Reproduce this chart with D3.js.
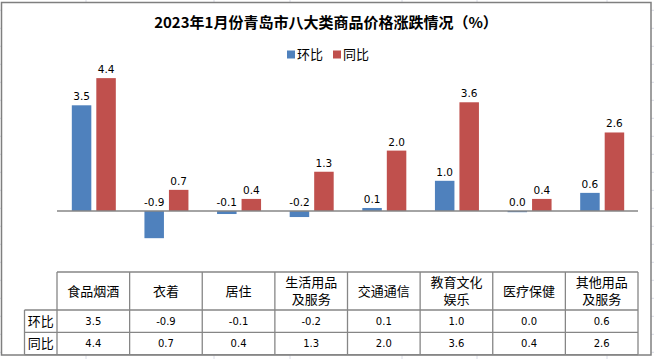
<!DOCTYPE html>
<html>
<head>
<meta charset="utf-8">
<script src="https://cdn.jsdelivr.net/npm/d3@7"></script>
<style>
  body { margin: 0; background: #fff; }
  svg { display: block; }
</style>
</head>
<body>
<div id="chart"></div>
<script>
// data
var categories = ["食品烟酒", "衣着", "居住", "生活用品\n及服务", "交通通信", "教育文化\n娱乐", "医疗保健", "其他用品\n及服务"];
var huanbi = [3.5, -0.9, -0.1, -0.2, 0.1, 1.0, 0.0, 0.6];
var tongbi = [4.4, 0.7, 0.4, 1.3, 2.0, 3.6, 0.4, 2.6];
var seriesNames = ["环比", "同比"];
var seriesColors = ["#4F81BD", "#C0504D"];
var titleText = "2023年1月份青岛市八大类商品价格涨跌情况（%）";

var width = 654, height = 359;
var cjk = "'Noto Sans CJK SC', sans-serif";
var num = "'DejaVu Sans', sans-serif";
var fmt = d3.formatLocale({decimal: ".", thousands: ",", grouping: [3], currency: ["", ""], minus: "-"}).format(".1f");

var svg = d3.select("#chart").append("svg")
    .attr("width", width)
    .attr("height", height);

//-sheet gridlines behind the chart object----------------------------------//
var sheetCols = [86, 214, 290, 402, 477, 607];
var sheetRows = d3.range(10.3, height, 18);
svg.append("g").selectAll("line.col").data(sheetCols).enter().append("line")
    .attr("x1", d=>d).attr("x2", d=>d).attr("y1", 0).attr("y2", height)
    .attr("stroke", "#dadce6").attr("stroke-width", 1);
svg.append("g").selectAll("line.row").data(sheetRows).enter().append("line")
    .attr("x1", 0).attr("x2", width).attr("y1", d=>d).attr("y2", d=>d)
    .attr("stroke", "#dadce6").attr("stroke-width", 1);

// chart frame
svg.append("rect")
    .attr("x", 1.5).attr("y", 2.5)
    .attr("width", 649.5).attr("height", 352.5)
    .attr("fill", "#fff")
    .attr("stroke", "#7f7f7f")
    .attr("stroke-width", 1.5);

//-scales--------------------------------------------------------------------//
var xScale = d3.scaleBand()
    .domain(categories)
    .range([57, 638])
    .padding(0);

var yScale = d3.scaleLinear()
    .domain([-2, 5])
    .range([271.4, 60]);

var barW = 19.5, gap = 5;

// title
svg.append("text")
    .attr("x", 326)
    .attr("y", 28)
    .attr("text-anchor", "middle")
    .attr("font-family", cjk)
    .attr("font-weight", "bold")
    .attr("font-size", 15)
    .attr("fill", "#000")
    .text(titleText);

// legend
var legend = svg.append("g").attr("class", "legend");
var legX = [287, 333];
seriesNames.forEach(function(name, i){
    legend.append("rect")
        .attr("x", legX[i]).attr("y", 50.5)
        .attr("width", 8).attr("height", 8)
        .attr("fill", seriesColors[i]);
    legend.append("text")
        .attr("x", legX[i] + 10)
        .attr("y", 59)
        .attr("font-family", cjk)
        .attr("font-size", 13)
        .attr("fill", "#000")
        .text(name);
});

//-bars----------------------------------------------------------------------//
var rows = categories.map(function(c, i){ return {cat: c, v: [huanbi[i], tongbi[i]]}; });
var svg_g = svg.append("g").attr("class", "mainchart");

seriesNames.forEach(function(name, s){
    var xOff = function(d){
        var mid = xScale(d.cat) + xScale.bandwidth() / 2 + 0.5;
        return s === 0 ? mid - gap / 2 - barW : mid + gap / 2;
    };
    svg_g.selectAll("rect.bar-" + s).data(rows).enter().append("rect")
        .attr("class", "bar-" + s)
        .attr("x", xOff)
        .attr("y", d=>yScale(Math.max(0, d.v[s])))
        .attr("width", barW)
        .attr("height", d=>Math.max(Math.abs(yScale(d.v[s]) - yScale(0)), 1.2))
        .attr("fill", seriesColors[s]);
    svg_g.selectAll("text.lab-" + s).data(rows).enter().append("text")
        .attr("class", "lab-" + s)
        .attr("x", d=>xOff(d) + barW / 2)
        .attr("y", d=>Math.min(yScale(0), yScale(d.v[s])) - 5)
        .attr("text-anchor", "middle")
        .attr("font-family", num)
        .attr("font-size", 10.5)
        .attr("fill", "#000")
        .text(d=>fmt(d.v[s]));
});

// zero line
svg_g.append("line")
    .attr("x1", xScale.range()[0]).attr("x2", xScale.range()[1])
    .attr("y1", yScale(0)).attr("y2", yScale(0))
    .attr("stroke", "#868686")
    .attr("stroke-width", 1.3);

//-data table----------------------------------------------------------------//
var tTop = 272, tHead = 310, tRow = 22.3, labL = 24.5;
var tBottom = tHead + 2 * tRow;
var tbl = svg.append("g").attr("class", "table");
var lineStyle = function(sel){ return sel.attr("stroke", "#868686").attr("stroke-width", 1.3); };

var xs = categories.map(c=>xScale(c)).concat([xScale.range()[1]]);
xs.forEach(function(x){
    tbl.append("line").attr("x1", x).attr("x2", x).attr("y1", tTop).attr("y2", tBottom).call(lineStyle);
});
tbl.append("line").attr("x1", labL).attr("x2", labL).attr("y1", tHead).attr("y2", tBottom).call(lineStyle);
tbl.append("line").attr("x1", xs[0]).attr("x2", xs[xs.length-1]).attr("y1", tTop).attr("y2", tTop).call(lineStyle);
[tHead, tHead + tRow, tBottom].forEach(function(y){
    tbl.append("line").attr("x1", labL).attr("x2", xs[xs.length-1]).attr("y1", y).attr("y2", y).call(lineStyle);
});

// header texts
categories.forEach(function(c){
    var lines = c.split("\n");
    var cx = xScale(c) + xScale.bandwidth() / 2;
    var cy = (tTop + tHead) / 2;
    lines.forEach(function(l, j){
        tbl.append("text")
            .attr("x", cx)
            .attr("y", cy + (j - (lines.length - 1) / 2) * 17.5)
            .attr("dy", "0.36em")
            .attr("text-anchor", "middle")
            .attr("font-family", cjk)
            .attr("font-size", 13)
            .attr("fill", "#000")
            .text(l);
    });
});

// row labels and values
[huanbi, tongbi].forEach(function(vals, r){
    var cy = tHead + tRow * r + tRow / 2;
    tbl.append("text")
        .attr("x", (labL + xs[0]) / 2)
        .attr("y", cy)
        .attr("dy", "0.36em")
        .attr("text-anchor", "middle")
        .attr("font-family", cjk)
        .attr("font-size", 13)
        .attr("fill", "#000")
        .text(seriesNames[r]);
    vals.forEach(function(v, i){
        tbl.append("text")
            .attr("x", xScale(categories[i]) + xScale.bandwidth() / 2)
            .attr("y", cy)
            .attr("dy", "0.36em")
            .attr("text-anchor", "middle")
            .attr("font-family", num)
            .attr("font-size", 10)
            .attr("fill", "#000")
            .text(fmt(v));
    });
});
</script>
</body>
</html>
